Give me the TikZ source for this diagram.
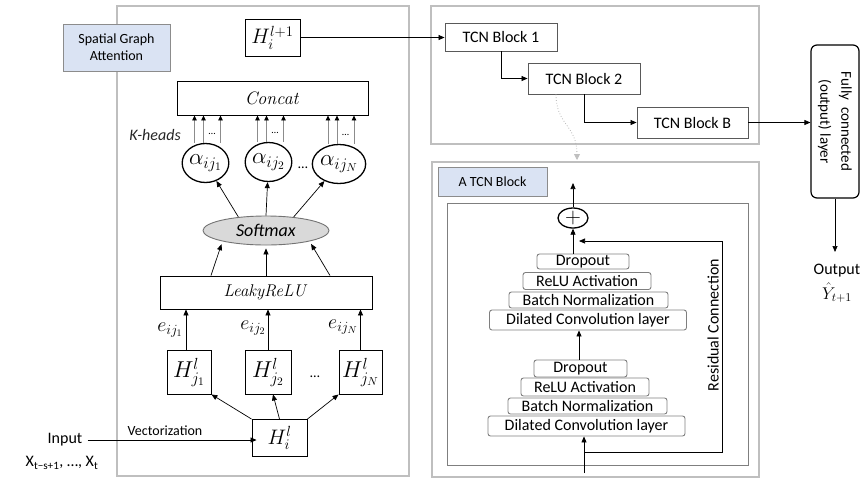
\RequirePackage{fix-cm}
\documentclass[tikz,border=0pt]{standalone}
\usepackage[no-math]{fontspec}
\usepackage{graphicx}
\setmainfont{Carlito}
\usetikzlibrary{arrows.meta,shapes.geometric,calc}
\definecolor{panelline}{HTML}{BFBFBF}
\definecolor{tagfill}{HTML}{DAE3F3}
\definecolor{tagline}{HTML}{8C8C8C}
\definecolor{boxline}{HTML}{595959}
\definecolor{layerline}{HTML}{7F7F7F}
\definecolor{softfill}{HTML}{D9D9D9}
\newcommand\setfs[1]{\fontsize{#1}{1.2\dimexpr#1pt\relax}\selectfont}
\tikzset{
  panel/.style={draw=panelline, line width=1.5pt},
  tag/.style={draw=tagline, fill=tagfill, line width=0.8pt, align=center, inner sep=0pt, font=\setfs{14}},
  mbox/.style={draw=black, line width=0.9pt, inner sep=0pt},
  wbox/.style={draw=boxline, line width=0.9pt, inner sep=0pt, font=\setfs{16}},
  layer/.style={draw=layerline, line width=0.9pt, rounded corners=2.5pt, inner sep=0pt, font=\setfs{16}},
  head/.style={ellipse, draw=black, line width=1.3pt, inner sep=0pt, minimum width=44pt, minimum height=39pt, font=\setfs{23}},
  arr/.style={-{Triangle[length=6pt,width=5pt]}, line width=0.7pt},
  harr/.style={draw=black!45, line width=0.8pt, -{Triangle[length=5pt,width=4.5pt,color=black]}},
  lbl/.style={inner sep=0pt, font=\setfs{16}},
}
\begin{document}
\begin{tikzpicture}[x=1pt,y=-1pt]
\useasboundingbox (0,0) rectangle (864,480);

% panels
\draw[panel] (117,6) rectangle (409,476);
\draw[panel] (431,6) rectangle (759,144);
\draw[panel] (432,162) rectangle (759,477);

% ---------------- spatial graph attention ----------------
\node[tag, minimum width=107pt, minimum height=47pt] (sga) at (116.5,47.5) {Spatial Graph\\Attention};

\node[mbox, minimum width=55pt, minimum height=37pt, font=\setfs{21}] (hout) at (272.5,37.5) {$H_i^{l+1}$};
\node[mbox, minimum width=191pt, minimum height=34pt, font=\setfs{18}] (concat) at (272.5,98) {$\mathit{Concat}$};

\node[head] (a1) at (205.5,163) {$\alpha_{ij_1}$};
\node[head] (a2) at (268.5,162) {$\alpha_{ij_2}$};
\node[head] (a3) at (339,164) {$\alpha_{ij_N}$};
\node[lbl, font=\setfs{14}] (dA) at (303,168) {…};

\node[lbl, text=black!85] (kh) at (155,135) {\textit{K-heads}};

\foreach \a in {a1,a2,a3}{
  \foreach \d in {-11,-2,15}{
    \draw[harr] ([xshift=\d pt]\a.north) -- ([xshift=\d pt]\a.north |- concat.south);
  }
  \node[lbl, font=\setfs{10}] (dk\a) at ($(\a.north)+(6.5,-9)$) {…};
}

\node[ellipse, draw=black!55, fill=softfill, line width=0.9pt, inner sep=0pt,
      minimum width=126pt, minimum height=29pt, font=\setfs{18}] (soft) at (266,230.5) {\textit{Softmax}};

\draw[arr] (soft.154) -- (a1);
\draw[arr] (soft.north) -- (a2);
\draw[arr] (soft.26) -- (a3);

\node[mbox, minimum width=212pt, minimum height=33pt, font=\setfs{17}] (leaky) at (266,292.5) {$\mathit{LeakyReLU}$};

\draw[arr, shorten >=3pt] ([xshift=-55pt]leaky.north) -- (soft.-166);
\draw[arr, shorten >=3pt] (leaky.north) -- (soft.south);
\draw[arr, shorten >=3pt] ([xshift=64pt]leaky.north) -- (soft.-14);

\node[mbox, minimum width=44pt, minimum height=44pt, font=\setfs{23}] (hj1) at (189,372) {$H_{j_1}^{l}$};
\node[mbox, minimum width=46pt, minimum height=44pt, font=\setfs{23}] (hj2) at (268,372) {$H_{j_2}^{l}$};
\node[mbox, minimum width=43pt, minimum height=44pt, font=\setfs{23}] (hj3) at (360.5,372) {$H_{j_N}^{l}$};
\node[lbl, font=\setfs{14}] (dH) at (315,377) {…};

\draw[arr] ([xshift=-3pt]hj1.north) -- ([xshift=-3pt]hj1.north |- leaky.south);
\draw[arr] (hj2.north) -- (hj2.north |- leaky.south);
\draw[arr] (hj3.north) -- (hj3.north |- leaky.south);

\node[lbl, font=\setfs{20}] (e1) at (170,330) {$e_{ij_1}$};
\node[lbl, font=\setfs{20}] (e2) at (253,328) {$e_{ij_2}$};
\node[lbl, font=\setfs{20}] (e3) at (343,327) {$e_{ij_N}$};

\node[mbox, minimum width=55pt, minimum height=37pt, font=\setfs{21}] (hi) at (279.5,438) {$H_i^{l}$};

\draw[arr] (hi.north west) -- (hj1.south east);
\draw[arr] (hi.north) -- ([xshift=5pt]hj2.south);
\draw[arr] (hi.north east) -- (hj3.south west);

\node[lbl] (inp) at (65,440) {Input};
\node[lbl] (xs) at (62,463) {X\textsubscript{t−s+1}, …, X\textsubscript{t}};
\node[lbl, font=\setfs{14}] (vec) at (165,431) {Vectorization};
\draw[arr] ([xshift=5pt]inp.east) -- ([xshift=5pt]inp.east -| hi.west);

% ---------------- TCN stack ----------------
\node[wbox, minimum width=112pt, minimum height=28pt] (tb1) at (501,37) {TCN Block 1};
\node[wbox, minimum width=112pt, minimum height=31pt] (tb2) at (584,78.5) {TCN Block 2};
\node[wbox, minimum width=111pt, minimum height=31pt] (tbB) at (692.5,122.5) {TCN Block B};

\draw[arr] (hout.east) -- (hout.east -| tb1.west);
\draw[arr] (tb1.south) |- (tb2.west);
\draw[arr] (tb2.south) |- (tbB.west);

% output layer, its text turned to read downwards
\node[draw=black, line width=1.2pt, rounded corners=6pt, inner sep=0pt,
      minimum width=48pt, minimum height=153pt,
      font=\fontsize{15}{21}\selectfont] (fc) at (835,121.5)
      {\rotatebox{-90}{\begin{tabular}{@{}c@{}}Fully\ \ connected\\(output) layer\end{tabular}}};
\draw[arr] (tbB.east) -- (tbB.east -| fc.west);

\coordinate (outtip) at (835,252);
\draw[arr] (fc.south) -- (outtip);
\node[lbl] (outp) at (837,271) {Output};
\node[lbl, font=\setfs{17}] (yhat) at (837,293) {$\hat{Y}_{t+1}$};

% link to the detailed block
\coordinate (dotstart) at ([xshift=-28pt]tb2.south);
\coordinate (dotend) at (577,160);
\draw[draw=black!30, dotted, line width=0.8pt, -{Triangle[length=6pt,width=6pt,color=black!25]}]
  (dotstart) .. controls (556,125) and (577,125) .. (dotend);

% ---------------- a TCN block ----------------
\node[tag, minimum width=109pt, minimum height=29pt] (atb) at (492.5,181.5) {A TCN Block};
\draw[draw=layerline, line width=0.9pt] (447,203) rectangle (748,465);

\node[ellipse, draw=black, line width=1.3pt, inner sep=0pt, minimum width=30pt, minimum height=20pt] (plus) at (573,218) {\fontsize{22}{22}\selectfont$+$};
\coordinate (blockout) at (573,183);
\draw[arr] (plus.north) -- (blockout);

\node[layer, minimum width=92pt, minimum height=15pt] (d1) at (583,261.5) {Dropout};
\node[layer, minimum width=128pt, minimum height=17pt] (r1) at (587,281) {ReLU Activation};
\node[layer, minimum width=159pt, minimum height=16pt] (b1) at (588.5,300) {Batch Normalization};
\node[layer, minimum width=197pt, minimum height=20pt] (c1) at (588,320) {Dilated Convolution layer};

\node[layer, minimum width=93pt, minimum height=17pt] (d2) at (580.5,368.5) {Dropout};
\node[layer, minimum width=128pt, minimum height=18pt] (r2) at (585,387) {ReLU Activation};
\node[layer, minimum width=159pt, minimum height=16pt] (b2) at (587.5,406) {Batch Normalization};
\node[layer, minimum width=197pt, minimum height=20pt] (c2) at (586.5,426) {Dilated Convolution layer};

\draw[arr] ([xshift=-10pt]d1.north) -- (plus.south);
\draw[arr] ([xshift=-1.5pt]d2.north) -- ([xshift=-1.5pt]d2.north |- c1.south);

\coordinate (blockin) at (584,473);
\draw[arr] (blockin) -- (blockin |- c2.south);

\coordinate (rs) at (584,452);
\coordinate (rc) at (722,241);
\draw[arr] (rs) -| (rc) -- ([xshift=6pt]rc -| plus.south);
\node[lbl, rotate=90] (resl) at (713,325) {Residual Connection};

\end{tikzpicture}
\end{document}
